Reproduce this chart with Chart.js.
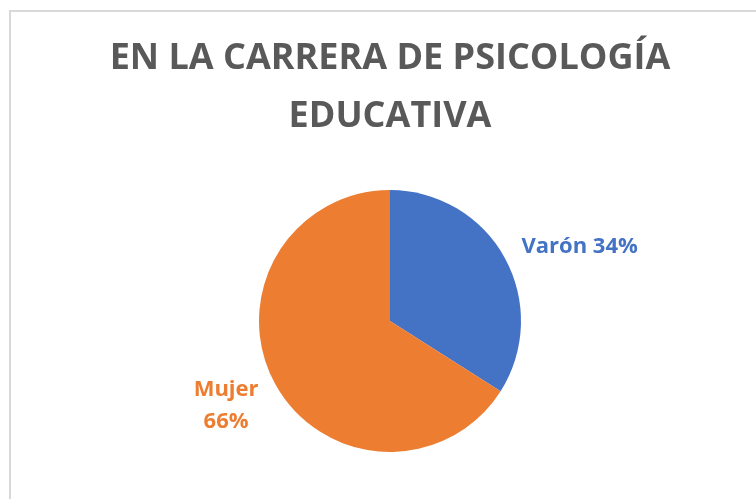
<!DOCTYPE html>
<html>
<head>
<meta charset="utf-8">
<script src="https://cdn.jsdelivr.net/npm/chart.js@4.4.1/dist/chart.umd.min.js"></script>
<style>
  html, body { margin: 0; padding: 0; background: #ffffff; }
  #wrap { width: 756px; height: 499px; position: relative; }
</style>
</head>
<body>
<div id="wrap"><canvas id="c" width="756" height="499"></canvas></div>
<script>
const titleLines = ['EN LA CARRERA DE PSICOLOGÍA', 'EDUCATIVA'];
const categories = ['Varón', 'Mujer'];
const values = [34, 66];
const sliceColors = ['#4472C4', '#ED7D31'];

const frame = {
  id: 'frame',
  beforeDraw(chart) {
    const ctx = chart.ctx;
    ctx.save();
    ctx.fillStyle = '#ffffff';
    ctx.fillRect(0, 0, chart.width, chart.height);
    ctx.fillStyle = '#d9d9d9';
    ctx.fillRect(9, 10, 2, chart.height);
    ctx.fillRect(9, 10, chart.width, 2);
    ctx.restore();
  }
};

const sliceLabels = {
  id: 'sliceLabels',
  afterDatasetsDraw(chart) {
    const ctx = chart.ctx;
    const meta = chart.getDatasetMeta(0);
    const total = values.reduce((a, b) => a + b, 0);
    const layouts = [
      { dist: 19, dy: -2, lines: i => [categories[i] + ' ' + Math.round(values[i] / total * 100) + '%'] },
      { dist: 19, dy: 12, lines: i => [categories[i], Math.round(values[i] / total * 100) + '%'] }
    ];
    meta.data.forEach((arc, i) => {
      const mid = (arc.startAngle + arc.endAngle) / 2;
      const lay = layouts[i];
      const r = arc.outerRadius + lay.dist;
      const ax = arc.x + Math.cos(mid) * r;
      const ay = arc.y + Math.sin(mid) * r + lay.dy;
      const lines = lay.lines(i);
      ctx.save();
      ctx.font = 'bold 22px "Open Sans"';
      ctx.fillStyle = sliceColors[i];
      ctx.textBaseline = 'middle';
      const lh = 32;
      const widths = lines.map(t => ctx.measureText(t).width);
      const bw = Math.max(...widths);
      const right = Math.cos(mid) >= 0;
      const cx = right ? ax + bw / 2 : ax - bw / 2;
      ctx.textAlign = 'center';
      lines.forEach((t, k) => {
        const y = ay + (k - (lines.length - 1) / 2) * lh;
        ctx.fillText(t, cx, y);
      });
      ctx.restore();
    });
  }
};

new Chart(document.getElementById('c'), {
  type: 'pie',
  data: {
    labels: categories,
    datasets: [{
      data: values,
      backgroundColor: sliceColors,
      borderWidth: 0,
      hoverOffset: 0
    }]
  },
  options: {
    responsive: false,
    animation: false,
    events: [],
    layout: { padding: { left: 24, right: 0, top: 0, bottom: 47 } },
    plugins: {
      legend: { display: false },
      tooltip: { enabled: false },
      title: {
        display: true,
        text: titleLines,
        color: '#595959',
        font: { family: '"Open Sans"', size: 36, weight: 'bold', lineHeight: '58px' },
        padding: { top: 30, bottom: 44 }
      }
    }
  },
  plugins: [frame, sliceLabels]
});
</script>
</body>
</html>
